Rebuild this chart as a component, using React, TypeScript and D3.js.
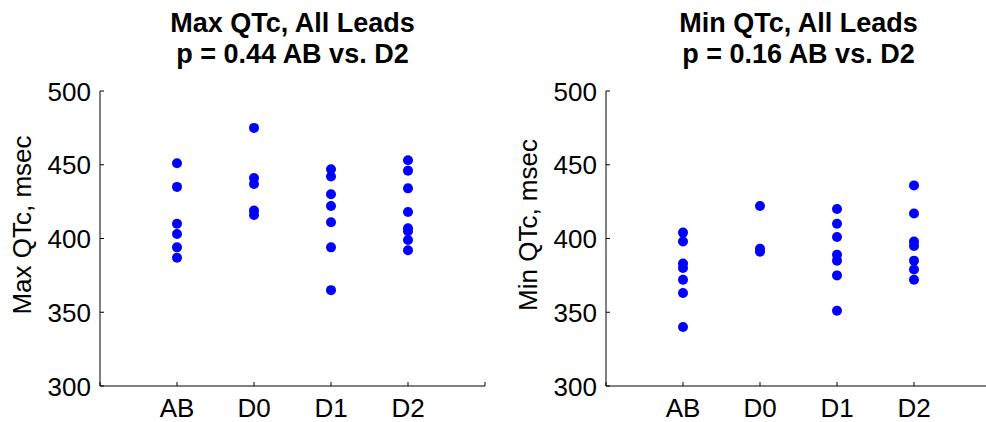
import React from "react";
import * as d3 from "d3";

const categories = ["AB", "D0", "D1", "D2"];
const yTicks = [300, 350, 400, 450, 500];

const maxAB = [451, 435, 410, 403, 394, 387];
const maxD0 = [475, 441, 437, 419, 416];
const maxD1 = [447, 442, 430, 422, 411, 394, 365];
const maxD2 = [453, 446, 434, 418, 407, 405, 399, 392];

const minAB = [404, 398, 383, 380, 372, 363, 340];
const minD0 = [422, 393, 391];
const minD1 = [420, 410, 401, 389, 385, 375, 351];
const minD2 = [436, 417, 398, 395, 385, 379, 372];

const panels = [
  {
    title1: "Max QTc, All Leads",
    title2: "p = 0.44 AB vs. D2",
    ylabel: "Max QTc, msec",
    series: [maxAB, maxD0, maxD1, maxD2],
    x0: 100,
  },
  {
    title1: "Min QTc, All Leads",
    title2: "p = 0.16 AB vs. D2",
    ylabel: "Min QTc, msec",
    series: [minAB, minD0, minD1, minD2],
    x0: 606,
  },
];

const FONT = "Liberation Sans, Arial, Helvetica, sans-serif";

function Panel({ p }: { p: (typeof panels)[number] }) {
  const x = d3.scaleLinear().domain([0, 5]).range([p.x0, p.x0 + 385]);
  const y = d3.scaleLinear().domain([300, 500]).range([386, 91]);
  const [xa, xb] = x.range();
  const cx = (xa + xb) / 2;
  const xt = d3.range(0, 6);
  return (
    <g>
      <text x={cx} y={32} textAnchor="middle" fontFamily={FONT} fontWeight="bold" fontSize={27}>
        {p.title1}
      </text>
      <text x={cx} y={63} textAnchor="middle" fontFamily={FONT} fontWeight="bold" fontSize={27}>
        {p.title2}
      </text>
      <line x1={xa} x2={xa} y1={y(500)} y2={y(300)} stroke="#000" strokeWidth={1} />
      <line x1={xa} x2={xb} y1={y(300)} y2={y(300)} stroke="#000" strokeWidth={1} />
      {yTicks.map((t) => (
        <g key={t}>
          <line x1={xa} x2={xa + 4} y1={y(t)} y2={y(t)} stroke="#000" />
          <text x={xa - 9} y={y(t) + 9.5} textAnchor="end" fontFamily={FONT} fontSize={26}>
            {t}
          </text>
        </g>
      ))}
      {xt.map((t) => (
        <line key={t} x1={x(t)} x2={x(t)} y1={y(300)} y2={y(300) - 4} stroke="#000" />
      ))}
      {categories.map((c, i) => (
        <text key={c} x={x(i + 1)} y={417} textAnchor="middle" fontFamily={FONT} fontSize={26}>
          {c}
        </text>
      ))}
      <text
        transform={`translate(${xa - 69},225) rotate(-90)`}
        textAnchor="middle"
        fontFamily={FONT}
        fontSize={26}
      >
        {p.ylabel}
      </text>
      {p.series.map((vals, i) =>
        vals.map((v, j) => (
          <circle key={`${i}-${j}`} cx={x(i + 1)} cy={y(v)} r={5} fill="#0000ff" />
        ))
      )}
    </g>
  );
}

export default function App() {
  return (
    <svg
      width={986}
      height={422}
      style={{ position: "absolute", left: 0, top: 0, background: "#fff" }}
    >
      <rect width={986} height={422} fill="#fff" />
      {panels.map((p) => (
        <Panel key={p.ylabel} p={p} />
      ))}
    </svg>
  );
}
